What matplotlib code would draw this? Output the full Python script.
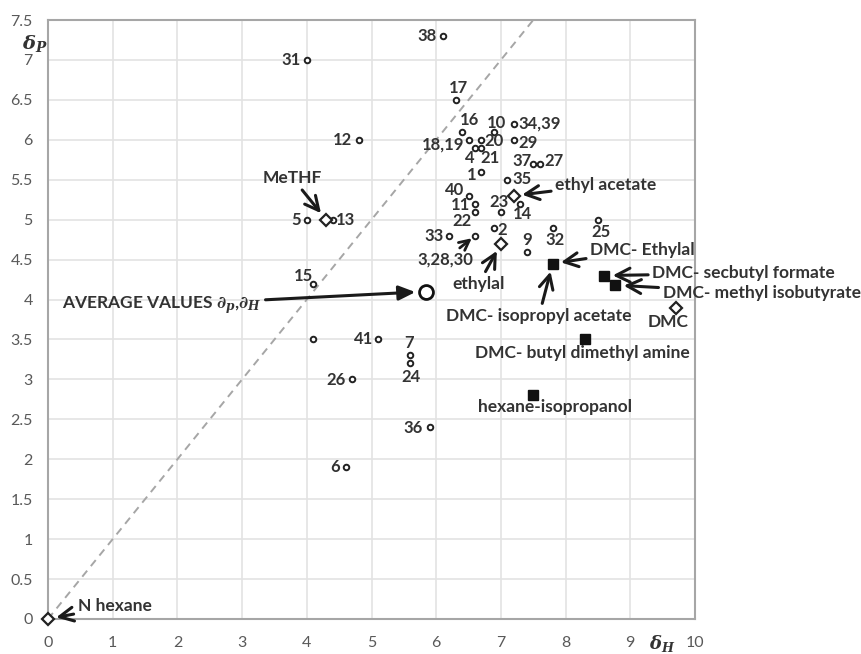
import numpy as np
import matplotlib
matplotlib.use("Agg")
import matplotlib.pyplot as plt
from matplotlib.ticker import FuncFormatter

plt.rcParams['font.family'] = ['Lato', 'DejaVu Sans']
plt.rcParams['mathtext.fontset'] = 'custom'
plt.rcParams['mathtext.it'] = 'DejaVu Serif:italic:bold'
plt.rcParams['mathtext.rm'] = 'DejaVu Serif:bold'
plt.rcParams['mathtext.bf'] = 'DejaVu Serif:bold'

# ---------------- data ----------------
# numbered solvents (open small circles): delta_H, delta_P
num_labels = ['38', '31', '17', '16', '10', '34,39', '12', '18,19', '20', '29',
              '4', '21', '37', '27', '1', '35', '40', '11', '14', '23', '22',
              '5', '13', '33', '3,28,30', '2', '9', '32', '25', '15', '41',
              '7', '24', '26', '36', '6', '']
num_dH = [6.1, 4.0, 6.3, 6.4, 6.9, 7.2, 4.8, 6.5, 6.7, 7.2,
          6.6, 6.7, 7.5, 7.6, 6.7, 7.1, 6.5, 6.6, 7.3, 7.0, 6.6,
          4.0, 4.4, 6.2, 6.6, 6.9, 7.4, 7.8, 8.5, 4.1, 5.1,
          5.6, 5.6, 4.7, 5.9, 4.6, 4.1]
num_dP = [7.3, 7.0, 6.5, 6.1, 6.1, 6.2, 6.0, 6.0, 6.0, 6.0,
          5.9, 5.9, 5.7, 5.7, 5.6, 5.5, 5.3, 5.2, 5.2, 5.1, 5.1,
          5.0, 5.0, 4.8, 4.8, 4.9, 4.6, 4.9, 5.0, 4.2, 3.5,
          3.3, 3.2, 3.0, 2.4, 1.9, 3.5]

# pure solvents (open diamonds)
pure_names = ['N hexane', 'MeTHF', 'ethyl acetate', 'ethylal', 'DMC']
pure_dH = [0.0, 4.3, 7.2, 7.0, 9.7]
pure_dP = [0.0, 5.0, 5.3, 4.7, 3.9]

# mixtures (filled squares)
mix_names = ['DMC- Ethylal', 'DMC- secbutyl formate', 'DMC- methyl isobutyrate',
             'DMC- butyl dimethyl amine', 'hexane-isopropanol']
mix_dH = [7.8, 8.6, 8.77, 8.3, 7.5]
mix_dP = [4.45, 4.3, 4.18, 3.5, 2.8]

# average values
avg_dH = 5.85
avg_dP = 4.1

x_ticks = list(range(0, 11))
y_ticks = list(np.arange(0, 7.51, 0.5))

# ---------------- styling (label placement, in pixels) ----------------
num_style = {
    '38': (-6, 0, 'right'), '31': (-6, 0, 'right'), '17': (3, -12, 'center'),
    '16': (7, -12, 'center'), '10': (2, -9, 'center'), '34,39': (5, 0, 'left'),
    '12': (-6, 0, 'right'), '18,19': (-4, 5, 'right'), '20': (3, 1, 'left'),
    '29': (5, 3, 'left'), '4': (-5, 10, 'center'), '21': (9, 10, 'center'),
    '37': (-2, -3, 'right'), '27': (5, -3, 'left'), '1': (-5, 3, 'right'),
    '35': (5, -1, 'left'), '40': (-4, -6, 'right'), '11': (-5, 1, 'right'),
    '14': (2, 10, 'center'), '23': (-2, -10, 'center'), '22': (-3, 9, 'right'),
    '5': (-6, 0, 'right'), '13': (3, 0, 'left'), '33': (-5, 0, 'right'),
    '3,28,30': (0, 0, 'none'), '2': (3, 2, 'left'), '9': (0, -12, 'center'),
    '32': (2, 12, 'center'), '25': (3, 12, 'center'), '15': (-10, -8, 'center'),
    '41': (-5, 0, 'right'), '7': (-1, -12, 'center'), '24': (1, 14, 'center'),
    '26': (-6, 1, 'right'), '36': (-7, 1, 'right'), '6': (-6, 0, 'right'),
    '': (0, 0, 'none'),
}

TXT = '#333333'
NFS = 12
fig = plt.figure(figsize=(8.62, 6.54), dpi=100)
ax = fig.add_axes([48 / 862, 1 - 619 / 654, 647 / 862, 599 / 654])
ax.set_xlim(0, 10)
ax.set_ylim(0, 7.5)
ax.set_xticks(x_ticks)
ax.set_yticks(y_ticks)
fmt = FuncFormatter(lambda v, p: '%g' % v)
ax.xaxis.set_major_formatter(fmt)
ax.yaxis.set_major_formatter(fmt)
ax.tick_params(length=0, labelsize=11.5, labelcolor='#595959')
ax.tick_params(axis='x', pad=12)
ax.tick_params(axis='y', pad=11)
ax.grid(True, color='#e3e3e3', lw=1.2)
ax.set_axisbelow(True)
for s in ax.spines.values():
    s.set_color('#a6a6a6')
    s.set_linewidth(1.5)

# y = x reference line
ax.plot([0, 7.5], [0, 7.5], ls=(0, (4, 3)), color='#a6a6a6', lw=1.4, zorder=1)

# numbered points
ax.plot(num_dH, num_dP, 'o', ms=4, mfc='white', mec='#222222', mew=1.4, ls='none', zorder=3)
for lab, x, y in zip(num_labels, num_dH, num_dP):
    dx, dy, ha = num_style[lab]
    if ha == 'none':
        continue
    ax.annotate(lab, (x, y), xytext=(dx, -dy), textcoords='offset pixels',
                ha=ha, va='center', fontsize=NFS, fontweight='bold', color=TXT)

# pure solvents
ax.plot(pure_dH, pure_dP, 'D', ms=6, mfc='white', mec='#222222', mew=1.6, ls='none',
        zorder=4, clip_on=False)
# mixtures
ax.plot(mix_dH, mix_dP, 's', ms=7.5, mfc='#111111', mec='#111111', ls='none', zorder=4)
# average
ax.plot([avg_dH], [avg_dP], 'o', ms=10, mfc='white', mec='#111111', mew=2, zorder=5)

AFS = 12.5
open_arrow = dict(arrowstyle='->,head_length=0.8,head_width=0.4', lw=2.2,
                  color='#1a1a1a', shrinkA=1, shrinkB=6)

def note(text, xy, xyt, ha='left', arrow=True, props=None, fs=AFS):
    ax.annotate(text, xy, xytext=xyt, textcoords='data', ha=ha, va='center',
                fontsize=fs, fontweight='bold', color=TXT,
                arrowprops=(props or open_arrow) if arrow else None,
                annotation_clip=False, zorder=6)

# "3,28,30" with arrow
note('3,28,30', (num_dH[24], num_dP[24]), (6.14, 4.50), ha='center', fs=NFS,
     props=dict(arrowstyle='->,head_length=0.6,head_width=0.3', lw=2, color='#1a1a1a',
                shrinkA=1, shrinkB=3))
note(pure_names[0], (pure_dH[0], pure_dP[0]), (0.46, 0.16), ha='left')
note(pure_names[1], (pure_dH[1], pure_dP[1]), (3.78, 5.52), ha='center')
note(pure_names[2], (pure_dH[2], pure_dP[2]), (7.84, 5.44), ha='left')
note(pure_names[3], (pure_dH[3], pure_dP[3]), (6.66, 4.20), ha='center')
note(pure_names[4], (pure_dH[4], pure_dP[4]), (9.59, 3.72), ha='center', arrow=False)
note(mix_names[0], (mix_dH[0], mix_dP[0]), (8.38, 4.62), ha='left')
note('DMC- isopropyl acetate', (mix_dH[0], mix_dP[0]), (7.59, 3.80), ha='center')
note(mix_names[1], (mix_dH[1], mix_dP[1]), (9.34, 4.33), ha='left')
note(mix_names[2], (mix_dH[2], mix_dP[2]), (9.50, 4.08), ha='left')
note(mix_names[3], (mix_dH[3], mix_dP[3]), (6.60, 3.33), ha='left', arrow=False)
note(mix_names[4], (mix_dH[4], mix_dP[4]), (7.84, 2.65), ha='center', arrow=False)
note(r'AVERAGE VALUES $\partial_p$,$\partial_H$', (avg_dH, avg_dP), (0.21, 3.93), ha='left',
     props=dict(arrowstyle='-|>,head_length=0.8,head_width=0.35', lw=2.2, color='#1a1a1a',
                shrinkA=1, shrinkB=8))

# axis titles
ax.text(-0.2, 7.21, r'$\delta_P$', ha='center', va='center', fontsize=14, color=TXT)
ax.text(9.49, -0.31, r'$\delta_H$', ha='center', va='center', fontsize=13, color=TXT)

fig.savefig('out.png', dpi=100)
